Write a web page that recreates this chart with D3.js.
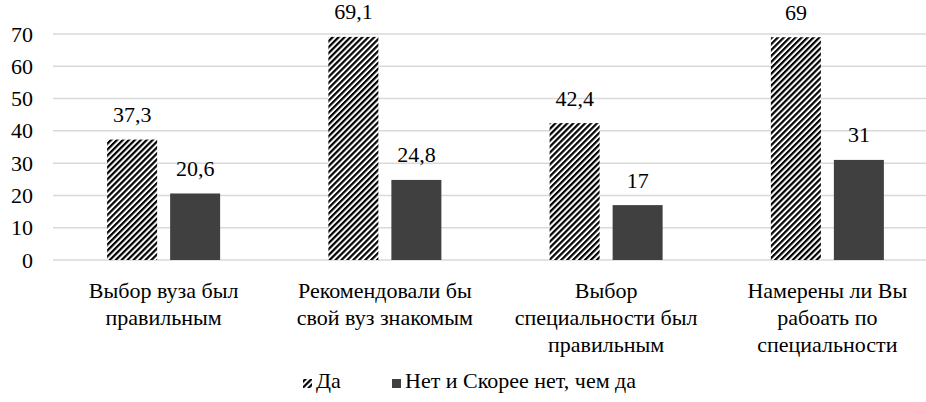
<!DOCTYPE html>
<html><head><meta charset="utf-8"><script src="https://cdn.jsdelivr.net/npm/d3@7"></script></head>
<body style="margin:0">
<script>
/* Chart data. */
let categories = [
    ["Выбор вуза был", "правильным"],
    ["Рекомендовали бы", "свой вуз знакомым"],
    ["Выбор", "специальности был", "правильным"],
    ["Намерены ли Вы", "рабоать по", "специальности"]
];
let seriesNames = ["Да", "Нет и Скорее нет, чем да"];
let yesValues = [37.3, 69.1, 42.4, 69];
let noValues = [20.6, 24.8, 17, 31];
let yTicks = [0, 10, 20, 30, 40, 50, 60, 70];

let W = 926, H = 402;
let margins = {left: 53, right: -12, top: 34, bottom: 142};

let svg = d3.select("body").append("svg")
    .attr("width", W)
    .attr("height", H);

/* Diagonal hatching used for the "Да" series. */
let hatch = svg.append("defs").append("pattern")
    .attr("id", "hatch")
    .attr("patternUnits", "userSpaceOnUse")
    .attr("width", 4.2)
    .attr("height", 4.2)
    .attr("patternTransform", "rotate(45)");
hatch.append("rect")
    .attr("width", 4.2).attr("height", 4.2)
    .attr("fill", "#fff");
hatch.append("rect")
    .attr("width", 2.2).attr("height", 4.2)
    .attr("fill", "#000");

/* Scales. */
let x0 = d3.scaleBand()
    .domain(d3.range(categories.length))
    .range([margins.left, W - margins.right]);
let yscale = d3.scaleLinear()
    .domain([0, 70])
    .range([H - margins.bottom, margins.top]);

let barWidth = 50, barGap = 13;

/* Every text goes straight onto the svg with the same font. */
function label(x, y, str, anchor) {
    return svg.append("text")
        .attr("x", x)
        .attr("y", y)
        .attr("text-anchor", anchor || "start")
        .style("font-family", "'Liberation Serif'")
        .style("font-size", "22px")
        .text(str);
}

/* Gridlines. */
svg.selectAll("line.grid")
    .data(yTicks)
    .enter()
    .append("line")
        .attr("class", "grid")
        .attr("x1", margins.left)
        .attr("x2", W)
        .attr("y1", d => yscale(d))
        .attr("y2", d => yscale(d))
        .attr("stroke", "#d9d9d9")
        .attr("stroke-width", 1.5);

/* Y tick labels. */
yTicks.forEach(d => label(33, yscale(d) + 7.5, d, "end"));

/* Bars and their value labels. */
let series = [
    {name: seriesNames[0], values: yesValues, fill: "url(#hatch)", offset: -(barGap / 2 + barWidth)},
    {name: seriesNames[1], values: noValues, fill: "#404040", offset: barGap / 2}
];
let fmt = v => String(v).replace(".", ",");

series.forEach(function(s, k) {
    svg.selectAll("rect.bar" + k)
        .data(s.values)
        .enter()
        .append("rect")
            .attr("class", "bar" + k)
            .attr("x", (d, i) => x0(i) + x0.bandwidth() / 2 + s.offset)
            .attr("y", d => yscale(d))
            .attr("width", barWidth)
            .attr("height", d => yscale(0) - yscale(d))
            .attr("fill", s.fill);
    s.values.forEach(function(d, i) {
        label(x0(i) + x0.bandwidth() / 2 + s.offset + barWidth / 2,
              yscale(d) - 17.5, fmt(d), "middle");
    });
});

/* Category labels, one text per line. */
categories.forEach(function(lines, i) {
    lines.forEach(function(line, j) {
        label(x0(i) + x0.bandwidth() / 2, yscale(0) + 38 + j * 26.8, line, "middle");
    });
});

/* Legend. */
let legendItems = [
    {name: seriesNames[0], fill: "url(#hatch)", x: 303},
    {name: seriesNames[1], fill: "#404040", x: 392}
];
legendItems.forEach(function(item) {
    svg.append("rect")
        .attr("x", item.x)
        .attr("y", 379)
        .attr("width", 9)
        .attr("height", 9)
        .attr("fill", item.fill);
    label(item.x + 13, 388, item.name);
});
</script>
</body>
</html>
